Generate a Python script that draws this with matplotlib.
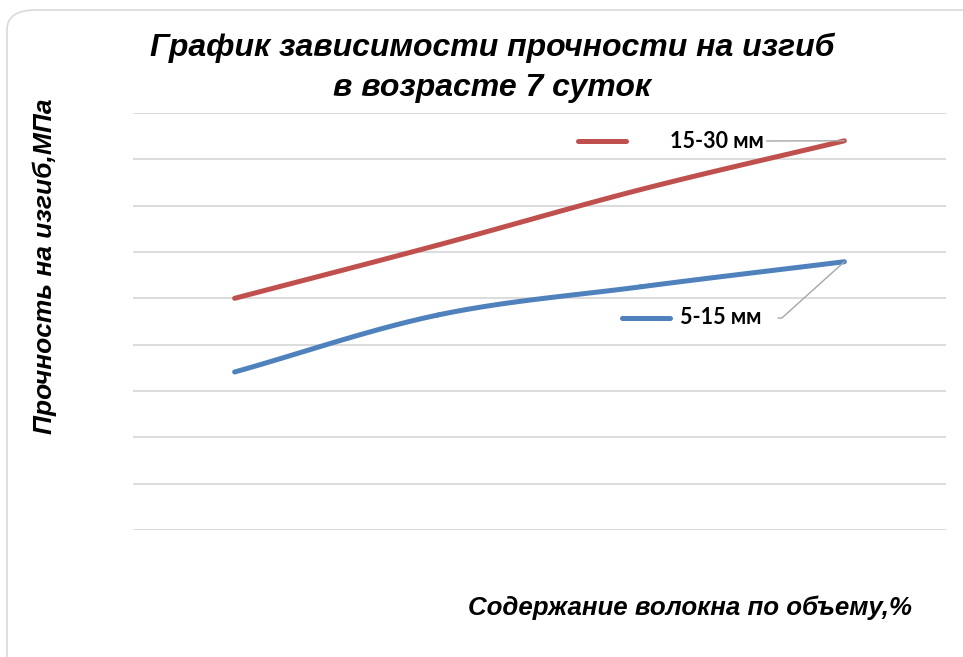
import numpy as np
import matplotlib.pyplot as plt
from matplotlib.patches import FancyBboxPatch

# data (values in gridline units)
categories = [1, 2, 3, 4]
long_fiber = [5.0, 6.15, 7.35, 8.4]     # 15-30 мм
short_fiber = [3.41, 4.64, 5.25, 5.79]  # 5-15 мм
labels = ["15-30 мм", "5-15 мм"]
colors = ["#C0504D", "#4F81BD"]


def smooth(x, y, n=40):
    # Catmull-Rom style smoothing like Excel "smoothed line"
    x = np.asarray(x, float)
    y = np.asarray(y, float)
    px = np.concatenate([[2 * x[0] - x[1]], x, [2 * x[-1] - x[-2]]])
    py = np.concatenate([[2 * y[0] - y[1]], y, [2 * y[-1] - y[-2]]])
    xs, ys = [], []
    t = np.linspace(0, 1, n)
    for i in range(1, len(px) - 2):
        p0, p1, p2, p3 = px[i - 1], px[i], px[i + 1], px[i + 2]
        q0, q1, q2, q3 = py[i - 1], py[i], py[i + 1], py[i + 2]
        xs.append(0.5 * (2 * p1 + (-p0 + p2) * t + (2 * p0 - 5 * p1 + 4 * p2 - p3) * t**2
                         + (-p0 + 3 * p1 - 3 * p2 + p3) * t**3))
        ys.append(0.5 * (2 * q1 + (-q0 + q2) * t + (2 * q0 - 5 * q1 + 4 * q2 - q3) * t**2
                         + (-q0 + 3 * q1 - 3 * q2 + q3) * t**3))
    return np.concatenate(xs), np.concatenate(ys)


W, H = 963, 657
fig = plt.figure(figsize=(W / 100, H / 100), dpi=100)

# rounded chart border, behind everything
border = FancyBboxPatch((7 / W, 1 - 700 / H), 1.2, (700 - 10) / H,
                        boxstyle="round,pad=0,rounding_size=0.03",
                        transform=fig.transFigure, fc="white", ec="#D9D9D9", lw=1.2,
                        zorder=-10)
fig.patches.append(border)

ax = fig.add_axes([133 / W, 1 - 530 / H, (946 - 133) / W, (530 - 113) / H])
ax.set_facecolor("none")
ax.set_xlim(0.5, 4.5)
ax.set_ylim(0, 9)
ax.set_yticks(np.arange(0, 10))
ax.grid(axis="y", color="#D9D9D9", lw=1.3)
ax.set_axisbelow(True)
ax.tick_params(left=False, bottom=False, labelleft=False, labelbottom=False)
for s in ax.spines.values():
    s.set_visible(False)

for vals, c in zip([long_fiber, short_fiber], colors):
    sx, sy = smooth(categories, vals)
    ax.plot(sx, sy, color=c, lw=3.6, solid_capstyle="round")

# legend keys drawn in figure pixels
fig.lines.append(plt.Line2D([578 / W, 626 / W], [1 - 141 / H, 1 - 141 / H], color=colors[0],
                            lw=3.6, solid_capstyle="round", transform=fig.transFigure))
fig.lines.append(plt.Line2D([622 / W, 670 / W], [1 - 318 / H, 1 - 318 / H], color=colors[1],
                            lw=3.6, solid_capstyle="round", transform=fig.transFigure))

fb = dict(family="Lato", weight="bold", fontsize=15.5, color="black")
ax.annotate(labels[0], xy=(categories[-1], long_fiber[-1]), xytext=(670, H - 141),
            textcoords="figure pixels", va="center", ha="left", **fb,
            arrowprops=dict(arrowstyle="-", color="#A6A6A6", lw=1, shrinkA=0, shrinkB=0,
                            relpos=(0.95, 0.5)))
ax.annotate(labels[1], xy=(categories[-1], short_fiber[-1]), xytext=(680, H - 318),
            textcoords="figure pixels", va="center", ha="left", **fb,
            arrowprops=dict(arrowstyle="-", color="#A6A6A6", lw=1, shrinkA=10, shrinkB=0,
                            relpos=(1, 0.5), connectionstyle="angle,angleA=0,angleB=42,rad=0"))

fig.text(492 / W, 1 - 68 / H, "График зависимости прочности на изгиб\nв возрасте 7 суток",
         ha="center", va="center", family="Liberation Sans", weight="bold", style="italic",
         fontsize=23, linespacing=1.42)
fig.text(45 / W, 1 - 266 / H, "Прочность на изгиб,МПа", rotation=90, ha="center", va="center",
         family="Liberation Sans", weight="bold", style="italic", fontsize=19)
fig.text(690 / W, 1 - 608 / H, "Содержание волокна по объему,%", ha="center", va="center",
         family="Liberation Sans", weight="bold", style="italic", fontsize=18.6)

fig.savefig("out.png", dpi=100)
